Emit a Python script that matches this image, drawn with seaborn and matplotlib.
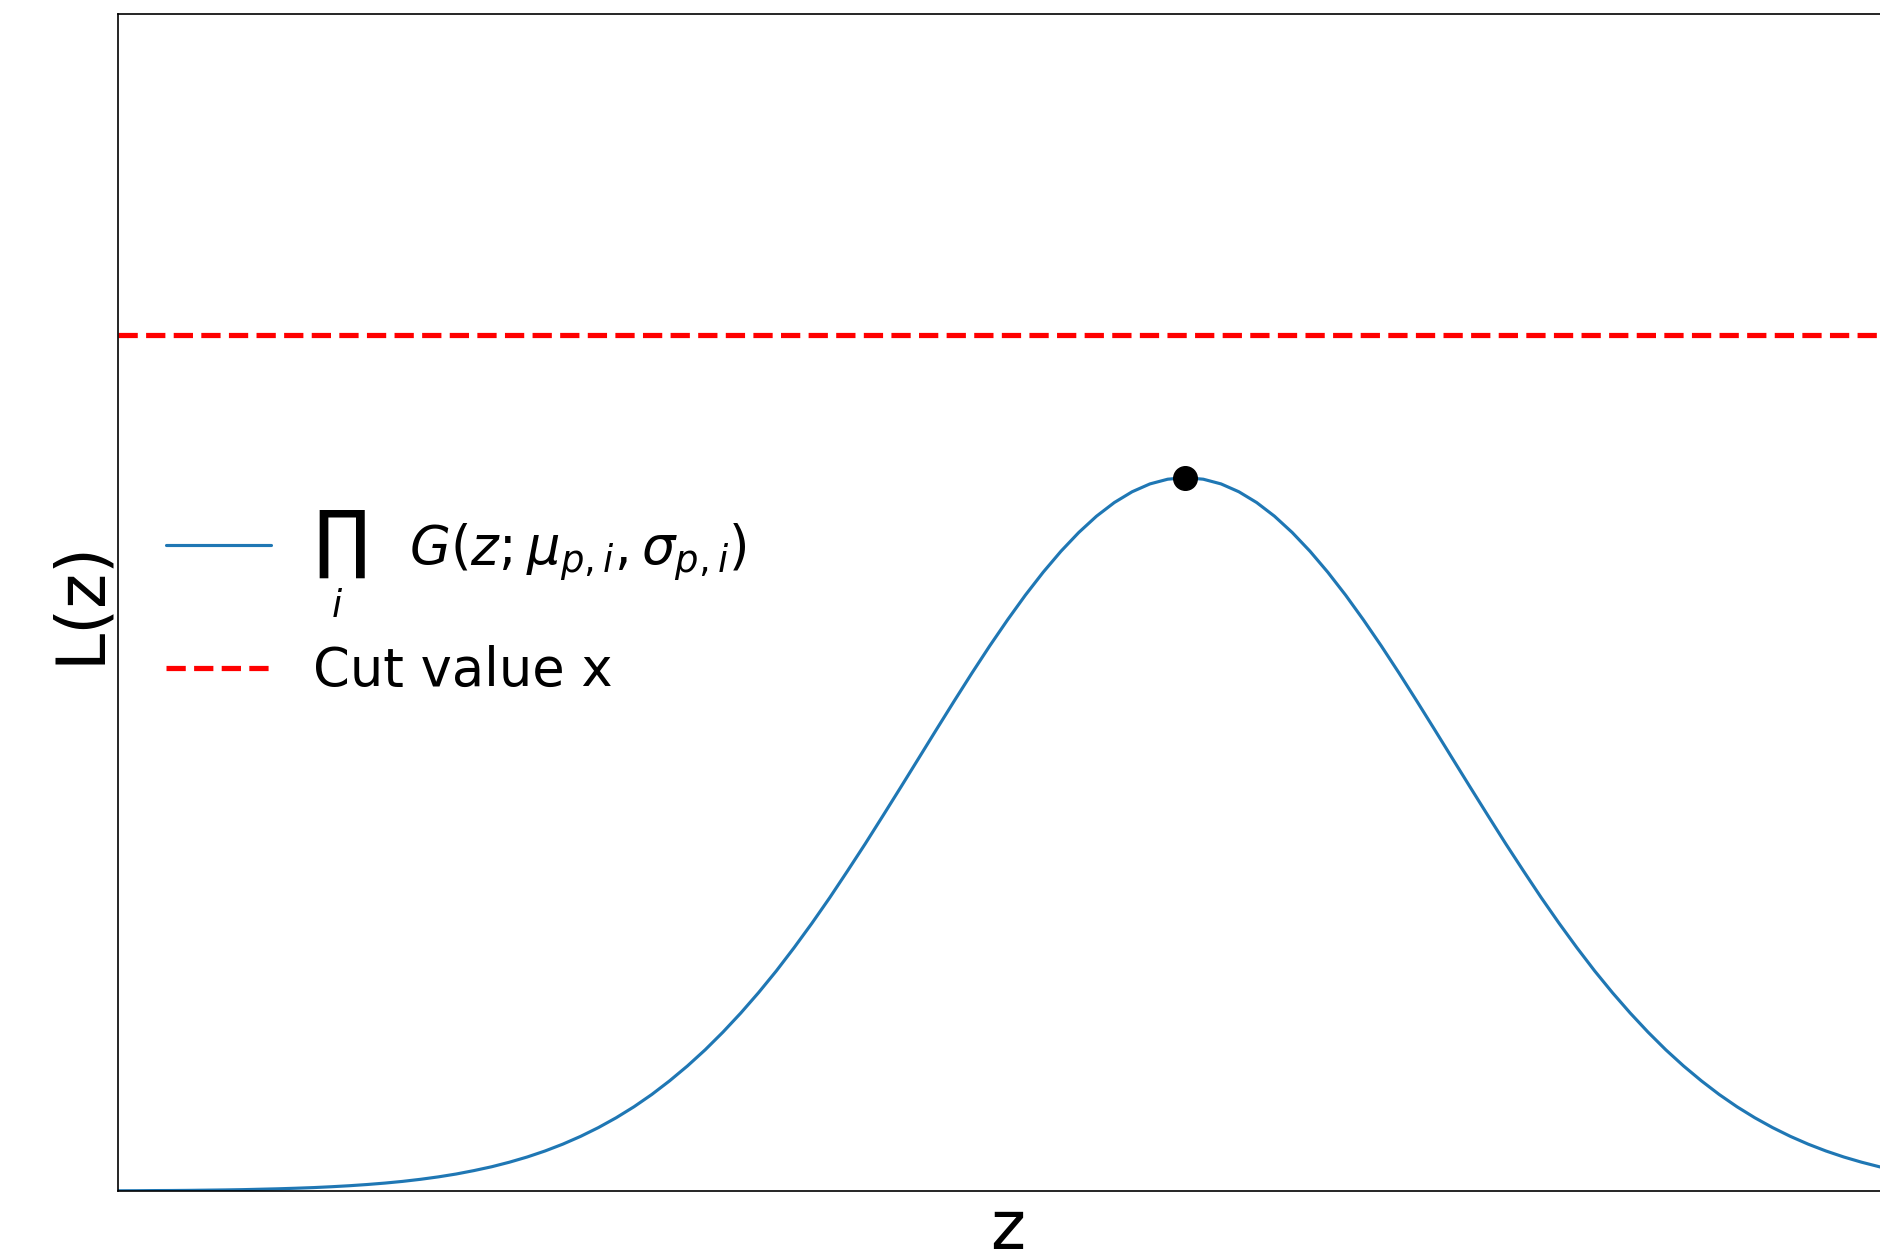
import numpy as np
import seaborn as sns
import matplotlib.pyplot as plt
import warnings
warnings.filterwarnings("ignore")

# values (z on 0..10, L normalised to the peak)
z_vals = [0.0, 0.1, 0.2, 0.3, 0.4, 0.5, 0.6, 0.7, 0.8, 0.9,
          1.0, 1.1, 1.2, 1.3, 1.4, 1.5, 1.6, 1.7, 1.8, 1.9,
          2.0, 2.1, 2.2, 2.3, 2.4, 2.5, 2.6, 2.7, 2.8, 2.9,
          3.0, 3.1, 3.2, 3.3, 3.4, 3.5, 3.6, 3.7, 3.8, 3.9,
          4.0, 4.1, 4.2, 4.3, 4.4, 4.5, 4.6, 4.7, 4.8, 4.9,
          5.0, 5.1, 5.2, 5.3, 5.4, 5.5, 5.6, 5.7, 5.8, 5.9,
          6.0, 6.1, 6.2, 6.3, 6.4, 6.5, 6.6, 6.7, 6.8, 6.9,
          7.0, 7.1, 7.2, 7.3, 7.4, 7.5, 7.6, 7.7, 7.8, 7.9,
          8.0, 8.1, 8.2, 8.3, 8.4, 8.5, 8.6, 8.7, 8.8, 8.9,
          9.0, 9.1, 9.2, 9.3, 9.4, 9.5, 9.6, 9.7, 9.8, 9.9, 10.0]
L_vals = [0.0003, 0.0004, 0.0006, 0.0007, 0.0009, 0.0012, 0.0015, 0.0019, 0.0025, 0.0031,
          0.0039, 0.0048, 0.0060, 0.0074, 0.0091, 0.0111, 0.0135, 0.0164, 0.0198, 0.0238,
          0.0286, 0.0340, 0.0404, 0.0477, 0.0561, 0.0657, 0.0766, 0.0889, 0.1027, 0.1181,
          0.1353, 0.1544, 0.1752, 0.1979, 0.2227, 0.2494, 0.2780, 0.3085, 0.3411, 0.3753,
          0.4111, 0.4486, 0.4868, 0.5263, 0.5662, 0.6065, 0.6469, 0.6869, 0.7262, 0.7643,
          0.8007, 0.8353, 0.8674, 0.8968, 0.9231, 0.9460, 0.9651, 0.9802, 0.9912, 0.9978,
          1.0000, 0.9978, 0.9912, 0.9802, 0.9651, 0.9460, 0.9231, 0.8968, 0.8674, 0.8353,
          0.8007, 0.7643, 0.7262, 0.6869, 0.6469, 0.6065, 0.5662, 0.5263, 0.4868, 0.4486,
          0.4111, 0.3753, 0.3411, 0.3085, 0.2780, 0.2494, 0.2227, 0.1979, 0.1752, 0.1544,
          0.1353, 0.1181, 0.1027, 0.0889, 0.0766, 0.0657, 0.0561, 0.0477, 0.0404, 0.0340, 0.0286]
peak_z = [6.0]
peak_L = [1.0]
cut_value = 1.2

curve_label = r'$\prod_i\quad G(z;\mu_{p,i},\sigma_{p,i})$'
cut_label = 'Cut value x'

sns.set_style('white', {'axes.edgecolor': 'black', 'text.color': 'black',
                        'axes.labelcolor': 'black'})
plt.rcParams['font.family'] = ['DejaVu Sans']
plt.rcParams['text.color'] = 'black'
plt.rcParams['axes.labelcolor'] = 'black'

fig = plt.figure(figsize=(18.8, 12.57), dpi=100)
ax = fig.add_axes([0.0628, 0.0525, 0.9463, 0.9364])

sns.lineplot(x=z_vals, y=L_vals, color='#1f77b4', lw=2.25, label=curve_label, ax=ax)
ax.axhline(cut_value, color='red', ls='--', lw=3.75, label=cut_label)
ax.plot(peak_z, peak_L, 'o', color='black', ms=17)

ax.set_xlim(0, 10)
ax.set_ylim(0, 1.65)
ax.set_xticks([])
ax.set_yticks([])
ax.set_xlabel('z', fontsize=48)
ax.set_ylabel('L(z)', fontsize=48)
for sp in ax.spines.values():
    sp.set_linewidth(1.2)
    sp.set_color('black')

ax.legend(loc='center left', frameon=False, fontsize=38)

fig.savefig('out.png', dpi=100)
